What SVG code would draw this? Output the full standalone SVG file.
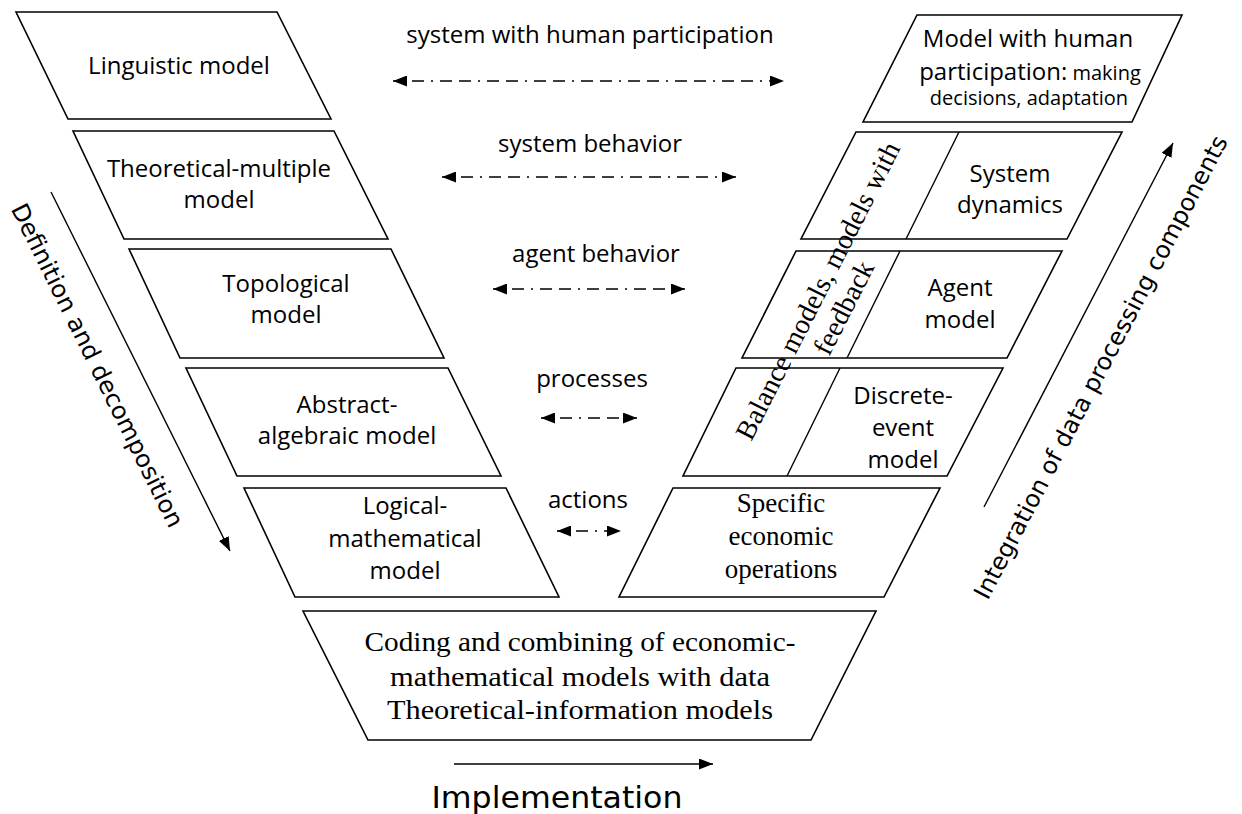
<svg xmlns="http://www.w3.org/2000/svg" width="1242" height="814" viewBox="0 0 1242 814">
<defs>
<marker id="ah" viewBox="0 0 14 11" refX="14" refY="5.5" markerWidth="14" markerHeight="11" markerUnits="userSpaceOnUse" orient="auto-start-reverse">
<path d="M0,0 L14,5.5 L0,11 z" fill="#000"/>
</marker>
</defs>
<style>
.box{fill:#fff;stroke:#000;stroke-width:1.6;stroke-linejoin:miter}
.div{fill:none;stroke:#000;stroke-width:1.4}
.t{font-family:"Open Sans","Liberation Sans",sans-serif;font-size:24px;fill:#000;text-anchor:middle}
.s{font-family:"Liberation Serif","Times New Roman",serif;font-size:27px;fill:#000;text-anchor:middle}
.c{font-family:"DejaVu Sans",sans-serif;font-size:24px;fill:#000;text-anchor:middle}
.dd{fill:none;stroke:#000;stroke-width:1.4;stroke-dasharray:12 7 12 7 2 7;marker-start:url(#ah);marker-end:url(#ah)}
.ar{fill:none;stroke:#000;stroke-width:1.4;marker-end:url(#ah)}
</style>
<rect width="1242" height="814" fill="#fff"/>

<g id="linguistic">
<polygon class="box" points="16,12 277,12 331,119 68,119"/>
<text class="t" x="179" y="74">Linguistic model</text>
</g>
<g id="theoretical-multiple">
<polygon class="box" points="73,131 334,131 388,239 124,239"/>
<text class="t" x="219" y="177">Theoretical-multiple</text>
<text class="t" x="219" y="208">model</text>
</g>
<g id="topological">
<polygon class="box" points="129,249 391,249 444,358 180,358"/>
<text class="t" x="286" y="292">Topological</text>
<text class="t" x="286" y="323">model</text>
</g>
<g id="abstract-algebraic">
<polygon class="box" points="186,368 448,368 501,476 237,476"/>
<text class="t" x="347" y="413">Abstract-</text>
<text class="t" x="347" y="444">algebraic model</text>
</g>
<g id="logical-mathematical">
<polygon class="box" points="244,488 506,488 559,597 295,597"/>
<text class="t" x="405" y="514">Logical-</text>
<text class="t" x="405" y="547">mathematical</text>
<text class="t" x="405" y="579">model</text>
</g>
<g id="coding">
<polygon class="box" points="303,611 876,611 811,740 368,740"/>
<text class="s" x="580" y="651" style="font-size:28px" textLength="431" lengthAdjust="spacingAndGlyphs">Coding and combining of economic-</text>
<text class="s" x="580" y="686" style="font-size:28px" textLength="380" lengthAdjust="spacingAndGlyphs">mathematical models with data</text>
<text class="s" x="580" y="719" style="font-size:28px" textLength="386" lengthAdjust="spacingAndGlyphs">Theoretical-information models</text>
</g>

<g id="human-participation-model">
<polygon class="box" points="917,15 1182,15 1132,122 863,122"/>
<text class="t" x="1028" y="47">Model with human</text>
<text class="t" x="1030" y="80">participation:<tspan style="font-size:20px"> making</tspan></text>
<text class="t" x="1029" y="105" style="font-size:20px">decisions, adaptation</text>
</g>
<g id="system-dynamics">
<polygon class="box" points="856,132 1122,132 1067,239 801,239"/>
<line class="div" x1="959" y1="132" x2="906" y2="239"/>
<text class="t" x="1010" y="182">System</text>
<text class="t" x="1010" y="213">dynamics</text>
</g>
<g id="agent-model">
<polygon class="box" points="796,251 1062,251 1007,358 742,358"/>
<line class="div" x1="900" y1="251" x2="847" y2="358"/>
<text class="t" x="960" y="296">Agent</text>
<text class="t" x="960" y="328">model</text>
</g>
<g id="discrete-event-model">
<polygon class="box" points="736,368 1003,368 947,476 683,476"/>
<line class="div" x1="840" y1="368" x2="787" y2="476"/>
<text class="t" x="903" y="404">Discrete-</text>
<text class="t" x="903" y="436">event</text>
<text class="t" x="903" y="468">model</text>
</g>
<g id="balance-models">
<text class="s" style="font-size:28px" transform="translate(826,295) rotate(-63)" x="0" y="0">Balance models, models with</text>
<text class="s" style="font-size:28px" transform="translate(852,312) rotate(-63)" x="0" y="0">feedback</text>
</g>
<g id="specific-operations">
<polygon class="box" points="673,488 940,488 884,597 619,597"/>
<text class="s" x="781" y="512">Specific</text>
<text class="s" x="781" y="545">economic</text>
<text class="s" x="781" y="578">operations</text>
</g>

<g id="connectors">
<line class="dd" x1="393" y1="81" x2="784" y2="81"/>
<line class="dd" x1="442" y1="177" x2="736" y2="177"/>
<line class="dd" x1="493" y1="289" x2="685" y2="289"/>
<line class="dd" x1="541" y1="418" x2="637" y2="418"/>
<line class="dd" x1="557" y1="531" x2="621" y2="531"/>
<line class="ar" x1="51" y1="192" x2="230" y2="551"/>
<line class="ar" x1="984" y1="507" x2="1173" y2="143"/>
<line class="ar" x1="454" y1="764" x2="713" y2="764"/>
</g>

<g id="labels">
<text class="t" x="590" y="43">system with human participation</text>
<text class="t" x="590" y="152">system behavior</text>
<text class="t" x="596" y="262">agent behavior</text>
<text class="t" x="592" y="387">processes</text>
<text class="t" x="588" y="508">actions</text>
<text class="c" transform="translate(90,369) rotate(63.6)" textLength="358" lengthAdjust="spacingAndGlyphs">Definition and decomposition</text>
<text class="c" transform="translate(1108,371) rotate(-62.4)" textLength="519" lengthAdjust="spacingAndGlyphs">Integration of data processing components</text>
<text class="c" x="557" y="808" style="font-size:30px" textLength="251" lengthAdjust="spacingAndGlyphs">Implementation</text>
</g>
</svg>
